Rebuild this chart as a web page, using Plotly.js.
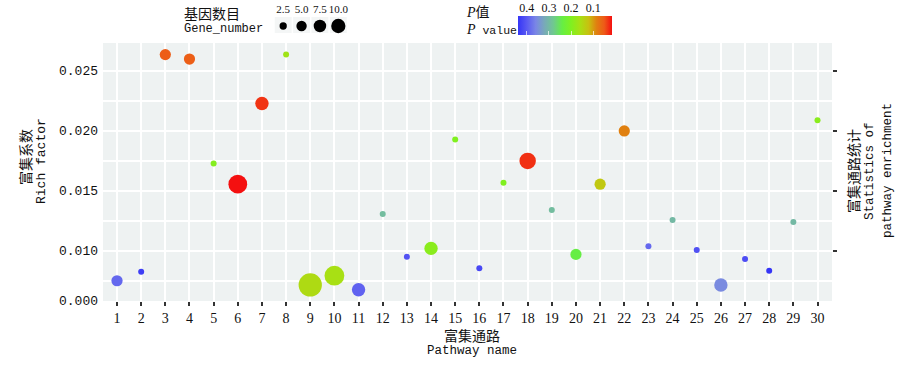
<!DOCTYPE html>
<html><head><meta charset="utf-8">
<script src="https://cdn.plot.ly/plotly-3.0.1.min.js"></script>
<style>html,body{margin:0;padding:0;background:#fff}</style>
</head><body><div id="chart" style="width:900px;height:365px"></div>
<script>
// ---------------- data ----------------
const pathway = [1,2,3,4,5,6,7,8,9,10,11,12,13,14,15,16,17,18,19,20,21,22,23,24,25,26,27,28,29,30];
const richFactor = [0.00748,0.00823,0.02635,0.02598,0.01727,0.01554,0.02227,0.02635,0.00713,0.00790,
                    0.00673,0.01304,0.00948,0.01018,0.01927,0.00852,0.01565,0.01748,0.01338,0.00968,
                    0.01554,0.01998,0.01035,0.01254,0.01004,0.00713,0.00929,0.00832,0.01238,0.02088];
const geneNumber = [2,1,2,2,1,7,3,1,12,8,3,1,1,3,1,1,1,5,1,2,2,2,1,1,1,3,1,1,1,1];
const pValue = [0.387,0.430,0.053,0.055,0.196,0.015,0.032,0.168,0.153,0.160,
                0.393,0.295,0.408,0.190,0.200,0.420,0.200,0.030,0.295,0.240,
                0.130,0.085,0.387,0.300,0.410,0.355,0.415,0.440,0.300,0.190];
const yTickVals = [0.00581,0.010,0.015,0.020,0.025];
const yTickText = ['0.000','0.010','0.015','0.020','0.025'];
const yGridVals = [0.0075,0.010,0.0125,0.015,0.0175,0.020,0.0225,0.025];
const sizeBreaks = [2.5,5.0,7.5,10.0];
const sizeBreakText = ['2.5','5.0','7.5','10.0'];
const pBreaks = [0.4,0.3,0.2,0.1];
const pBreakText = ['0.4','0.3','0.2','0.1'];

// ---------------- helpers ----------------
const W = 900, H = 365, ML = 103, MR = 68, MT = 0, MB = 64;
const PW = W - ML - MR, PH = H - MT - MB;
const px2x = px => (px - ML) / PW;
const px2y = py => (H - MB - py) / PH;

const pMax = Math.max(...pValue), pMin = Math.min(...pValue);
const nMin = Math.min(...geneNumber), nMax = Math.max(...geneNumber);
const sizeOf = n => 6 + 17.3*Math.sqrt((n-nMin)/(nMax-nMin));
const legendSizeOf = n => 2.5 + 13*Math.sqrt((n-nMin)/(nMax-nMin));

// colour ramp: stops given on the P-value scale (high P = blue, low P = red)
const rampP = [0.44, 0.40, 0.36, 0.32, 0.28, 0.24, 0.20, 0.16, 0.12, 0.085, 0.05, 0.015];
const rampC = ['#3535f6','#5a5af2','#7a86e6','#78aab8','#70c890','#66ee44','#80f020','#a8e014','#c8c010','#e08010','#ee5a18','#f41010'];
const colorscale = rampP.map((p,i)=>[Math.min(1,Math.max(0,(pMax-p)/(pMax-pMin))), rampC[i]]);
colorscale[0][0] = 0; colorscale[colorscale.length-1][0] = 1;

const MONO = 'Liberation Mono, Noto Sans CJK SC, monospace';
const CJK = 'Noto Sans CJK SC, Liberation Serif, serif';
const SERIF = 'Liberation Serif, serif';
const INK = '#111111';

// colorbar geometry (px)
const cbL = 518, cbR = 612, cbT = 16, cbB = 35;

const traces = [
  {type:'scatter', mode:'markers', x:pathway, y:richFactor, xaxis:'x', yaxis:'y',
   marker:{size:geneNumber.map(sizeOf), color:pValue.map(p=>-p), colorscale:colorscale,
     cmin:-pMax, cmax:-pMin, opacity:1, line:{width:0}, showscale:true,
     colorbar:{orientation:'h', xref:'paper', yref:'paper', x:px2x((cbL+cbR)/2), xanchor:'center',
       y:px2y(cbT), yanchor:'top', len:cbR-cbL, lenmode:'pixels', thickness:cbB-cbT, thicknessmode:'pixels',
       outlinewidth:0, xpad:0, ypad:0, borderwidth:0, ticks:'inside', ticklen:4, tickwidth:1,
       tickcolor:'rgba(255,255,255,0.7)', tickmode:'array', tickvals:pBreaks.map(p=>-p), showticklabels:false}},
   hoverinfo:'skip', showlegend:false},
  {type:'scatter', mode:'markers', x:[], y:[], xaxis:'x', yaxis:'y2', showlegend:false, hoverinfo:'skip'},
  {type:'scatter', mode:'markers', x:sizeBreakText, y:sizeBreaks.map(()=>0.5), xaxis:'x3', yaxis:'y3',
   marker:{size:sizeBreaks.map(legendSizeOf), color:'#000000', opacity:1, line:{width:0}}, showlegend:false, hoverinfo:'skip'},
  {type:'scatter', mode:'markers', x:[], y:[], xaxis:'x4', yaxis:'y4', showlegend:false, hoverinfo:'skip'}
];

const shapes = [
  {type:'rect', xref:'x domain', yref:'y domain', x0:0, x1:1, y0:0, y1:1, fillcolor:'#eef2f2', line:{width:0}, layer:'below'}
];
sizeBreaks.forEach((b,i)=>{
  shapes.push({type:'rect', xref:'x3', yref:'paper', x0:i-0.46, x1:i+0.46, y0:px2y(33), y1:px2y(17),
    fillcolor:'#f4f6f6', line:{width:0}, layer:'below'});
});

function ann(text, xpx, ypx, font, opts){
  return Object.assign({text:text, xref:'paper', yref:'paper', x:px2x(xpx), y:px2y(ypx),
    showarrow:false, font:font, xanchor:'center', yanchor:'middle'}, opts||{});
}
const annotations = [
  ann('富集系数', 25, 157, {family:CJK, size:14, color:INK}, {textangle:-90}),
  ann('Rich factor', 41, 161, {family:MONO, size:13, color:INK}, {textangle:-90}),
  ann('富集通路', 472, 335, {family:CJK, size:14, color:INK}),
  ann('Pathway name', 472, 351, {family:MONO, size:12.5, color:INK}),
  ann('富集通路统计', 853, 171, {family:CJK, size:14, color:INK}, {textangle:-90}),
  ann('Statistics of', 870, 171, {family:MONO, size:12.5, color:INK}, {textangle:-90}),
  ann('pathway enrichment', 888, 171, {family:MONO, size:12.5, color:INK}, {textangle:-90}),
  ann('基因数目', 182, 13, {family:CJK, size:14, color:INK}, {xanchor:'left'}),
  ann('Gene_number', 182, 29, {family:MONO, size:12, color:INK}, {xanchor:'left'}),
  ann('<i>P</i>值', 464, 13, {family:'Liberation Serif, Noto Sans CJK SC, serif', size:14, color:INK}, {xanchor:'left'}),
  ann('<i style="font-family:Liberation Serif;font-size:14px">P</i> value', 464, 30, {family:MONO, size:11.5, color:INK}, {xanchor:'left'})
];

const layout = {
  width:W, height:H, margin:{l:ML, r:MR, t:MT, b:MB, pad:0},
  paper_bgcolor:'#ffffff', plot_bgcolor:'rgba(0,0,0,0)',
  font:{family:MONO, color:INK, size:12},
  showlegend:false,
  xaxis:{domain:[0,1], anchor:'y', range:[0.42,30.6], tickmode:'array', tickvals:pathway, ticktext:pathway.map(String),
    ticks:'outside', ticklen:4, tickwidth:2, tickcolor:'#333333', showgrid:true, gridcolor:'#ffffff', gridwidth:2,
    zeroline:false, showline:false, tickfont:{family:SERIF, size:14, color:INK}, ticklabelstandoff:0, tickangle:0},
  yaxis:{domain:[0,px2y(43)], anchor:'x', range:[0.00579,0.02732], tickmode:'array', tickvals:yTickVals, ticktext:yTickText,
    ticks:'', showgrid:false, zeroline:false, showline:false, tickfont:{family:MONO, size:13, color:INK}, ticklabelstandoff:4,
    minor:{tickmode:'array', tickvals:yGridVals, showgrid:true, gridcolor:'#ffffff', gridwidth:2, ticks:''}},
  yaxis2:{overlaying:'y', side:'right', anchor:'x', range:[0.00579,0.02732], tickmode:'array', tickvals:yTickVals.slice(1),
    ticks:'outside', ticklen:3.5, tickwidth:2, tickcolor:'#333333', showticklabels:false, showgrid:false, zeroline:false, showline:false},
  xaxis3:{domain:[px2x(274),px2x(347.5)], anchor:'y3', side:'top', type:'category', range:[-0.5,3.5],
    tickmode:'array', tickvals:sizeBreakText, ticktext:sizeBreakText, ticks:'', showgrid:false, zeroline:false, showline:false,
    tickfont:{family:SERIF, size:11, color:INK}, ticklabelstandoff:2, tickangle:0},
  yaxis3:{domain:[px2y(34),px2y(18)], anchor:'x3', range:[0,1], visible:false},
  xaxis4:{domain:[px2x(cbL),px2x(cbR)], anchor:'y4', side:'top', range:[pMax,pMin], tickmode:'array', tickvals:pBreaks, ticktext:pBreakText,
    ticks:'', showgrid:false, zeroline:false, showline:false, tickfont:{family:SERIF, size:12, color:INK}, ticklabelstandoff:1, tickangle:0},
  yaxis4:{domain:[px2y(cbB),px2y(cbT)], anchor:'x4', range:[0,1], visible:false},
  shapes:shapes,
  annotations:annotations
};

Plotly.newPlot('chart', traces, layout, {staticPlot:true, displayModeBar:false});
</script></body></html>
